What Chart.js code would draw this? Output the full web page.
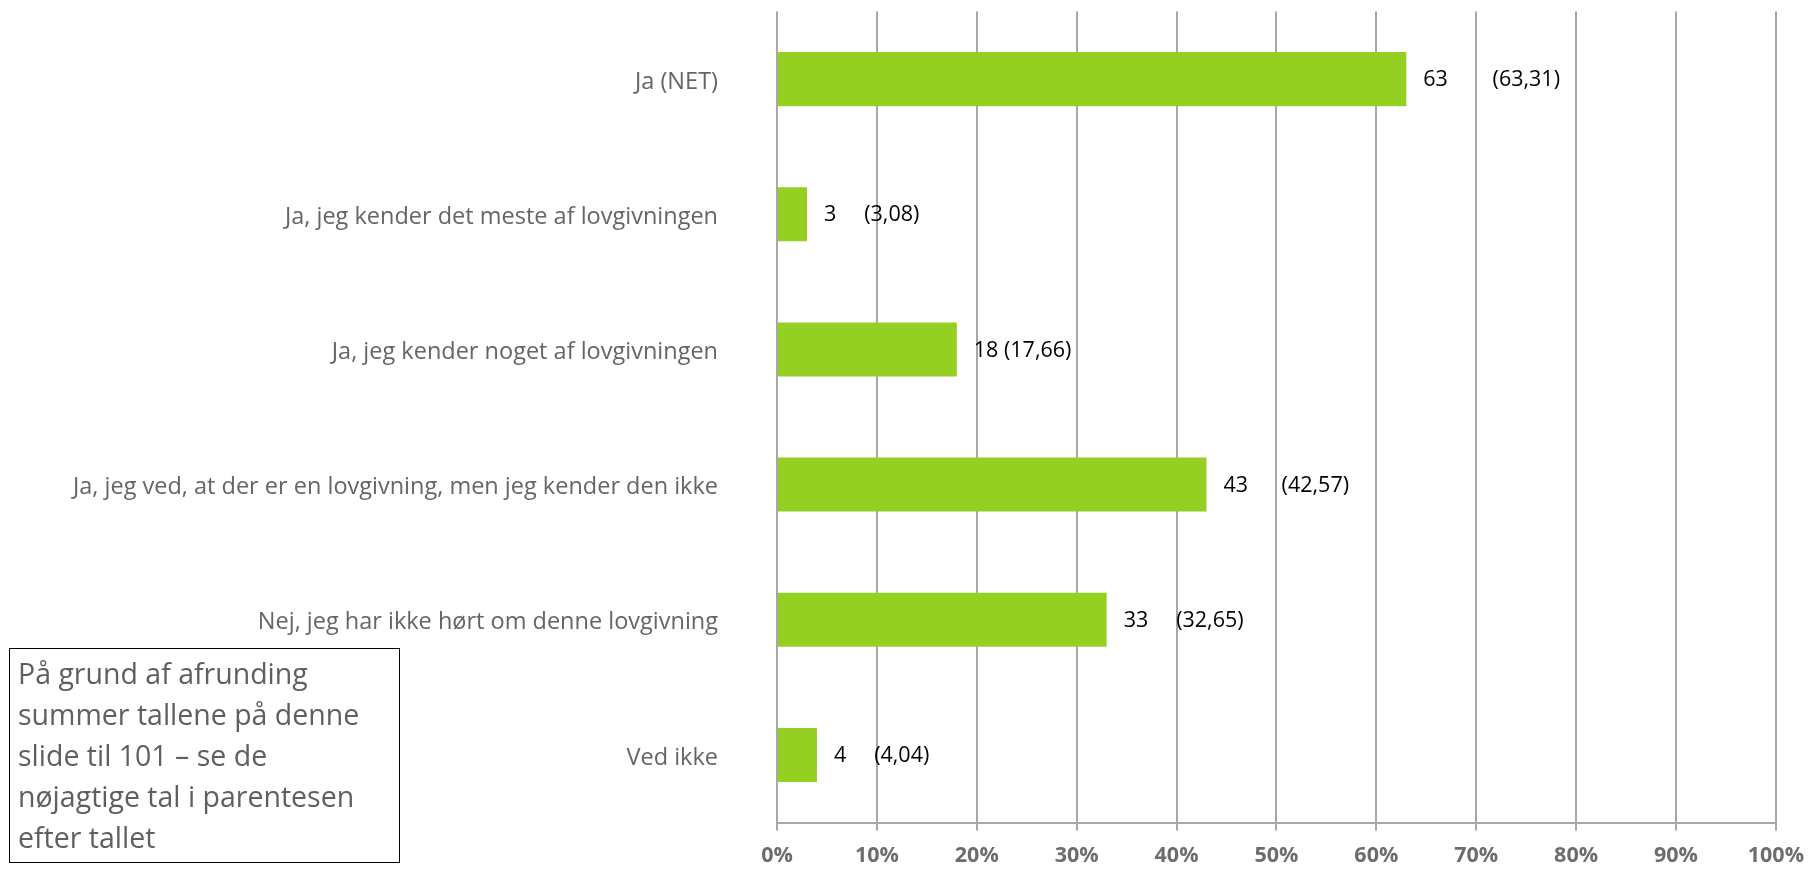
<!DOCTYPE html>
<html>
<head>
<meta charset="utf-8">
<script src="https://cdn.jsdelivr.net/npm/chart.js@4.4.0/dist/chart.umd.min.js"></script>
<style>
  body { margin: 0; background: #fff; }
  #wrap { position: relative; width: 1816px; height: 870px; }
  #note {
    position: absolute; left: 9px; top: 648px; width: 391px; height: 215px;
    border: 1.5px solid #000; box-sizing: border-box;
    font-family: "Open Sans", sans-serif; font-size: 28.5px; line-height: 41px;
    color: #5f5f5f; padding: 4px 0 0 8px; white-space: nowrap;
  }
</style>
</head>
<body>
<div id="wrap">
  <canvas id="awarenessChart" width="1816" height="870"></canvas>
  <div id="note">På grund af afrunding<br>summer tallene på denne<br>slide til 101 – se de<br>nøjagtige tal i parentesen<br>efter tallet</div>
</div>
<script>
// Categories and values
const answers = [
    'Ja (NET)',
    'Ja, jeg kender det meste af lovgivningen',
    'Ja, jeg kender noget af lovgivningen',
    'Ja, jeg ved, at der er en lovgivning, men jeg kender den ikke',
    'Nej, jeg har ikke hørt om denne lovgivning',
    'Ved ikke'
];
const shares = [63, 3, 18, 43, 33, 4];
const exactShares = ['63,31', '3,08', '17,66', '42,57', '32,65', '4,04'];
const valueLabels = [
    '63        (63,31)',
    '3     (3,08)',
    '18 (17,66)',
    '43      (42,57)',
    '33     (32,65)',
    '4     (4,04)'
];

const fontFamily = '"Open Sans", sans-serif';

// Draws "rounded (exact)" to the right of every bar
const barValueLabels = {
    id: 'barValueLabels',
    afterDatasetsDraw(chart) {
        const ctx = chart.ctx;
        const meta = chart.getDatasetMeta(0);
        ctx.save();
        ctx.font = '21.5px ' + fontFamily;
        ctx.fillStyle = '#000';
        ctx.textAlign = 'left';
        ctx.textBaseline = 'middle';
        meta.data.forEach((bar, i) => {
            ctx.fillText(valueLabels[i], bar.x + 17, bar.y + 1);
        });
        ctx.restore();
    }
};

const ctx = document.getElementById('awarenessChart').getContext('2d');
const awarenessChart = new Chart(ctx, {
    type: 'bar',
    data: {
        labels: answers,
        datasets: [{
            label: 'Andel',
            data: shares,
            backgroundColor: '#94d022',
            barPercentage: 0.4,
            categoryPercentage: 1.0
        }]
    },
    options: {
        indexAxis: 'y',
        responsive: false,
        animation: false,
        layout: {
            padding: { top: 0, right: 33, bottom: 0, left: 0 }
        },
        scales: {
            x: {
                min: 0,
                max: 100,
                ticks: {
                    stepSize: 10,
                    callback: v => v + '%',
                    color: '#6d6d6d',
                    font: { family: fontFamily, size: 21.5, weight: 'bold' },
                    padding: 12,
                    maxRotation: 0
                },
                grid: { color: '#a8a8a8', lineWidth: 2, tickLength: 8 },
                border: { color: '#a8a8a8', width: 2 },
                afterFit: s => { s.height = 47.5; }
            },
            y: {
                grid: { display: true, drawOnChartArea: false, color: 'rgba(0,0,0,0)', tickLength: 59 },
                border: { display: false },
                ticks: {
                    color: '#656565',
                    font: { family: fontFamily, size: 23.5, lineHeight: 0.98 },
                    padding: 0,
                    labelOffset: 3
                },
                afterFit: s => { s.width = 777; }
            }
        },
        plugins: {
            legend: { display: false },
            tooltip: { enabled: false }
        }
    },
    plugins: [barValueLabels]
});
</script>
</body>
</html>
